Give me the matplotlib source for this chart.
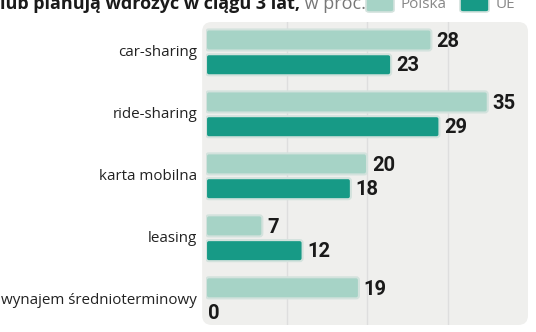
import matplotlib
matplotlib.use("Agg")
import matplotlib.pyplot as plt
from matplotlib.patches import FancyBboxPatch
import numpy as np

categories = ["car-sharing", "ride-sharing", "karta mobilna", "leasing", "wynajem średnioterminowy"]
polska = [28, 35, 20, 7, 19]
ue = [23, 29, 18, 12, 0]
series_names = ["Polska", "UE"]
title_bold = "lub planują wdrożyć w ciągu 3 lat,"
title_reg = " w proc."

C_PL = "#a6d3c6"
C_UE = "#179a86"
EDGE = "#d3e2dd"
BG = "#efefed"

W, H = 536, 332
fig = plt.figure(figsize=(W / 100, H / 100), dpi=100)
fig.patch.set_facecolor("white")

ax = fig.add_axes([206 / W, 1 - 325 / H, (528 - 206) / W, (325 - 22) / H])
ax.set_xlim(0, 40)
ax.set_ylim(4.40, -0.49)
ax.patch.set_visible(False)
for s in ax.spines.values():
    s.set_visible(False)
ax.set_xticks([])
ax.set_yticks([])

# rounded plot background
bg = FancyBboxPatch((-0.012, 0), 1.012, 1, boxstyle="round,pad=0,rounding_size=0.03",
                    transform=ax.transAxes, facecolor=BG, edgecolor="none", zorder=0,
                    mutation_aspect=322 / 303, clip_on=False)
ax.add_patch(bg)
for gx in [10, 20, 30]:
    ax.axvline(gx, color="#dedede", lw=1.0, zorder=1)

y = np.arange(len(categories))
off = 0.2
h = 0.34
bars_pl = ax.barh(y - off, polska, height=h, color=C_PL)
bars_ue = ax.barh(y + off, ue, height=h, color=C_UE)

px_x = 322 / 40.0
px_y = 303 / 4.89
asp = px_x / px_y
for bars, col in [(bars_pl, C_PL), (bars_ue, C_UE)]:
    for r in bars:
        r.set_visible(False)
        if r.get_width() <= 0:
            continue
        p = FancyBboxPatch((r.get_x(), r.get_y()), r.get_width(), r.get_height(),
                           boxstyle="round,pad=0,rounding_size=0.35",
                           mutation_aspect=asp, facecolor=col, edgecolor=EDGE,
                           lw=1.5, zorder=3)
        ax.add_patch(p)

valfont = dict(family=["Roboto", "DejaVu Sans"], fontweight="bold",
               fontsize=14.5, color="#1a1a1a")
for yi, v in zip(y - off, polska):
    ax.text(v + 0.6, yi + 0.02, str(v), va="center", ha="left", **valfont)
for yi, v in zip(y + off, ue):
    ax.text(v + (0.6 if v > 0 else 0.3), yi + 0.02, str(v), va="center", ha="left", **valfont)

for yi, c in zip(y, categories):
    ax.text(-1.1, yi, c, ha="right", va="center", fontsize=10.9,
            family=["Open Sans", "DejaVu Sans"], color="#222222", clip_on=False)

# title (partially cropped at top, as in the source)
t = fig.text(0, 1 - 9 / H, title_bold, fontsize=13, fontweight="bold",
             family=["Open Sans", "DejaVu Sans"], color="#1a1a1a", va="baseline", ha="left")
fig.canvas.draw()
bb = t.get_window_extent()
fig.text(bb.x1 / W, 1 - 9 / H, title_reg, fontsize=13, family=["Open Sans", "DejaVu Sans"],
         color="#777777", va="baseline", ha="left")

# legend
for x0, x1, col, lab, lx in [(366, 394, C_PL, series_names[0], 401), (460, 489, C_UE, series_names[1], 496)]:
    p = FancyBboxPatch((x0 / W, 1 - 12 / H), (x1 - x0) / W, 22 / H,
                       boxstyle="round,pad=0,rounding_size=0.006", transform=fig.transFigure,
                       facecolor=col, edgecolor=EDGE, lw=1.2)
    fig.patches.append(p)
    fig.text(lx / W, 1 - 8 / H, lab, fontsize=11, family=["Open Sans", "DejaVu Sans"],
             color="#888888", va="baseline", ha="left")

fig.savefig("out.png", dpi=100, facecolor="white")
